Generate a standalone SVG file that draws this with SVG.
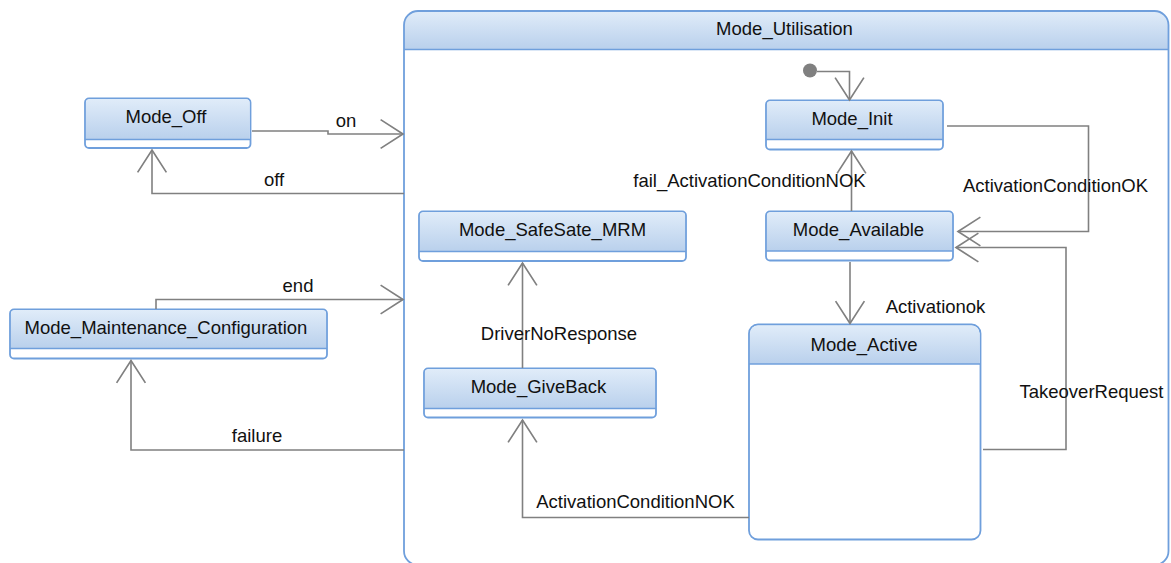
<svg xmlns="http://www.w3.org/2000/svg" width="1171" height="563" viewBox="0 0 1171 563">
  <defs>
    <linearGradient id="hdr" x1="0" y1="0" x2="0" y2="1">
      <stop offset="0" stop-color="#e0ecf9"/>
      <stop offset="1" stop-color="#b9d0ec"/>
    </linearGradient>
    <marker id="open" markerUnits="userSpaceOnUse" markerWidth="30" markerHeight="32" viewBox="-23 -15 25 30" refX="0" refY="0" orient="auto">
      <path d="M-21,-13.5 L0,0 L-21,13.5" fill="none" stroke="#808080" stroke-width="1.6"/>
    </marker>
    <clipPath id="frameClip"><rect x="404" y="11" width="764.5" height="554" rx="14"/></clipPath>
  </defs>
  <style>
    .box { fill: #ffffff; stroke: #6f9fdc; stroke-width: 1.8; }
    .head { fill: url(#hdr); }
    .sep { stroke: #6f9fdc; stroke-width: 1.6; }
    .lbl { font-family: "Liberation Sans", Arial, sans-serif; font-size: 18.5px; fill: #111111; text-anchor: middle; }
    .conn { fill: none; stroke: #808080; stroke-width: 1.6; marker-end: url(#open); }
  </style>
  <rect width="1171" height="563" fill="#ffffff"/>

  <!-- composite state -->
  <g id="Mode_Utilisation">
    <rect x="404" y="11" width="764.5" height="554" rx="14" fill="#ffffff"/>
    <rect x="404" y="11" width="764.5" height="38.5" class="head" clip-path="url(#frameClip)"/>
    <line x1="404" y1="49.5" x2="1168.5" y2="49.5" class="sep"/>
    <rect x="404" y="11" width="764.5" height="554" rx="14" fill="none" stroke="#6f9fdc" stroke-width="1.8"/>
    <text x="784.5" y="34.5" class="lbl">Mode_Utilisation</text>
  </g>

  <g id="Mode_Off">
    <rect x="85" y="98.5" width="165.5" height="49.5" rx="4" class="box"/>
    <path d="M86,139.5 V102.5 a3.5,3.5 0 0 1 3.5,-3.5 H246 a3.5,3.5 0 0 1 3.5,3.5 V139.5 Z" class="head"/>
    <line x1="85" y1="139.5" x2="250.5" y2="139.5" class="sep"/>
    <text x="166" y="123" class="lbl">Mode_Off</text>
  </g>

  <g id="Mode_Maintenance_Configuration">
    <rect x="10" y="309.5" width="317" height="49" rx="4" class="box"/>
    <path d="M11,348.5 V313.5 a3.5,3.5 0 0 1 3.5,-3.5 H322.5 a3.5,3.5 0 0 1 3.5,3.5 V348.5 Z" class="head"/>
    <line x1="10" y1="348.5" x2="327" y2="348.5" class="sep"/>
    <text x="166" y="333.5" class="lbl">Mode_Maintenance_Configuration</text>
  </g>

  <g id="initial">
    <circle cx="810" cy="70.5" r="7" fill="#808080"/>
  </g>

  <g id="Mode_Init">
    <rect x="766" y="100.5" width="177" height="49" rx="4" class="box"/>
    <path d="M767,139.5 V104.5 a3.5,3.5 0 0 1 3.5,-3.5 H938.5 a3.5,3.5 0 0 1 3.5,3.5 V139.5 Z" class="head"/>
    <line x1="766" y1="139.5" x2="943" y2="139.5" class="sep"/>
    <text x="852" y="125" class="lbl">Mode_Init</text>
  </g>

  <g id="Mode_Available">
    <rect x="766" y="211.5" width="187" height="49" rx="4" class="box"/>
    <path d="M767,251 V215.5 a3.5,3.5 0 0 1 3.5,-3.5 H948.5 a3.5,3.5 0 0 1 3.5,3.5 V251 Z" class="head"/>
    <line x1="766" y1="251" x2="953" y2="251" class="sep"/>
    <text x="858.5" y="235.5" class="lbl">Mode_Available</text>
  </g>

  <g id="Mode_SafeSate_MRM">
    <rect x="419" y="211.5" width="267" height="49.5" rx="4" class="box"/>
    <path d="M420,251.5 V215.5 a3.5,3.5 0 0 1 3.5,-3.5 H681.5 a3.5,3.5 0 0 1 3.5,3.5 V251.5 Z" class="head"/>
    <line x1="419" y1="251.5" x2="686" y2="251.5" class="sep"/>
    <text x="552.5" y="235.5" class="lbl">Mode_SafeSate_MRM</text>
  </g>

  <g id="Mode_GiveBack">
    <rect x="424" y="368.5" width="232" height="49" rx="4" class="box"/>
    <path d="M425,408.5 V372.5 a3.5,3.5 0 0 1 3.5,-3.5 H651.5 a3.5,3.5 0 0 1 3.5,3.5 V408.5 Z" class="head"/>
    <line x1="424" y1="408.5" x2="656" y2="408.5" class="sep"/>
    <text x="538.5" y="392.5" class="lbl">Mode_GiveBack</text>
  </g>

  <g id="Mode_Active">
    <rect x="749" y="324.5" width="231.5" height="215" rx="9" class="box"/>
    <path d="M750,364 V333.5 a8,8 0 0 1 8,-8 H971.5 a8,8 0 0 1 8,8 V364 Z" class="head"/>
    <line x1="749" y1="364" x2="980.5" y2="364" class="sep"/>
    <text x="864" y="350.5" class="lbl">Mode_Active</text>
  </g>

  <!-- transitions -->
  <g id="connectors">
    <path class="conn" d="M252,131 H328 V134 H403"/>
    <path class="conn" d="M404,193.5 H152 V150"/>
    <path class="conn" d="M156,309 V299.5 H403"/>
    <path class="conn" d="M404,450 H131 V360.5"/>
    <path class="conn" d="M817,71.5 H849.5 V100"/>
    <path class="conn" d="M851.5,211 V151"/>
    <path class="conn" d="M947,126 H1088.5 V231.5 H958"/>
    <path class="conn" d="M850,262 V323.5"/>
    <path class="conn" d="M983,449.5 H1066 V247.5 H956"/>
    <path class="conn" d="M522.5,368 V263"/>
    <path class="conn" d="M749,517.5 H522.5 V420"/>
  </g>

  <!-- transition labels -->
  <g id="labels">
    <text x="346" y="127" class="lbl">on</text>
    <text x="274" y="186" class="lbl">off</text>
    <text x="298" y="292" class="lbl">end</text>
    <text x="257" y="442" class="lbl">failure</text>
    <text x="749.5" y="187" class="lbl">fail_ActivationConditionNOK</text>
    <text x="1055.5" y="192" class="lbl">ActivationConditionOK</text>
    <text x="935.5" y="312.5" class="lbl">Activationok</text>
    <text x="1091.5" y="397.5" class="lbl">TakeoverRequest</text>
    <text x="559" y="340" class="lbl">DriverNoResponse</text>
    <text x="635.5" y="507.5" class="lbl">ActivationConditionNOK</text>
  </g>
</svg>
